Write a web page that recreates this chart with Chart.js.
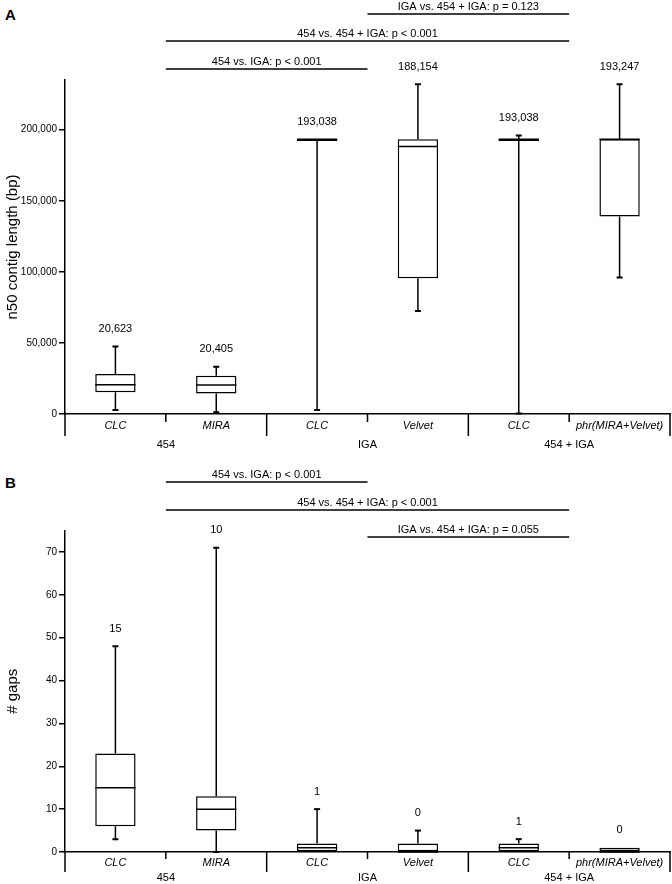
<!DOCTYPE html>
<html>
<head>
<meta charset="utf-8">
<script src="https://cdn.jsdelivr.net/npm/chart.js@4.4.0/dist/chart.umd.min.js"></script>
<style>
  html, body { margin: 0; padding: 0; background: #fff; }
  #wrap { position: relative; width: 672px; height: 884px; }
  canvas { position: absolute; left: 0; }
  #chartA { top: 0; }
  #chartB { top: 452px; }
  .panel { position: absolute; left: 5px; font: bold 15px "Liberation Sans", Arial, sans-serif; line-height: 16px; }
</style>
</head>
<body>
<div id="wrap">
  <div class="panel" style="top:7px">A</div>
  <div class="panel" style="top:475px">B</div>
  <canvas id="chartA" width="672" height="452"></canvas>
  <canvas id="chartB" width="672" height="432"></canvas>
</div>
<script>
// categories (assembler) and their groups (sequencing data)
const categories = ['CLC', 'MIRA', 'CLC', 'Velvet', 'CLC', 'phr(MIRA+Velvet)'];
const groups = ['454', 'IGA', '454 + IGA'];

// A: n50 contig length (bp)
const n50Min = [2800, 1200, 2800, 72500, 300, 96000];
const n50Q1 = [15300, 14500, 193038, 95500, 193038, 139000];
const n50Median = [20623, 20405, 193038, 188154, 193038, 193247];
const n50Q3 = [28200, 27000, 193038, 193400, 193038, 193247];
const n50Max = [47500, 33300, 193038, 232000, 196000, 232000];
const n50Labels = ['20,623', '20,405', '193,038', '188,154', '193,038', '193,247'];
const n50Ticks = [0, 50000, 100000, 150000, 200000];
const sigA = [
  { a: 0, b: 1, text: '454 vs. IGA: p < 0.001' },
  { a: 0, b: 2, text: '454 vs. 454 + IGA: p < 0.001' },
  { a: 1, b: 2, text: 'IGA vs. 454 + IGA: p = 0.123' }
];

// B: number of gaps
const gapsMin = [3, 0, 0, 0, 0, 0];
const gapsQ1 = [6, 5, 0, 0, 0, 0];
const gapsMedian = [15, 10, 1, 0, 1, 0];
const gapsQ3 = [23, 13, 2, 2, 2, 1];
const gapsMax = [48, 71, 10, 5, 3, 1];
const gapsLabels = ['15', '10', '1', '0', '1', '0'];
const gapsTicks = [0, 10, 20, 30, 40, 50, 60, 70];
const sigB = [
  { a: 0, b: 1, text: '454 vs. IGA: p < 0.001' },
  { a: 0, b: 2, text: '454 vs. 454 + IGA: p < 0.001' },
  { a: 1, b: 2, text: 'IGA vs. 454 + IGA: p = 0.055' }
];

const FONT = '"Liberation Sans", Arial, sans-serif';
Chart.defaults.font.family = FONT;
Chart.defaults.color = '#000';

// whiskers, medians, value labels, group axis and significance bars
const boxplotExtras = {
  id: 'boxplotExtras',
  afterDatasetsDraw(chart, args, o) {
    const { ctx } = chart;
    const x = chart.scales.x, y = chart.scales.y;
    const bars = chart.getDatasetMeta(0).data;
    ctx.save();
    ctx.strokeStyle = '#000';
    ctx.fillStyle = '#000';
    o.median.forEach((med, i) => {
      const cx = x.getPixelForValue(i);
      const hw = bars[i].width / 2;
      const yMin = y.getPixelForValue(o.min[i]);
      const yQ1 = y.getPixelForValue(o.q1[i]);
      const yQ3 = y.getPixelForValue(o.q3[i]);
      const yMax = y.getPixelForValue(o.max[i]);
      const yMed = y.getPixelForValue(med);

      ctx.lineWidth = 1.5;
      ctx.beginPath();
      if (o.max[i] > o.q3[i]) { ctx.moveTo(cx, yQ3); ctx.lineTo(cx, yMax); }
      if (o.min[i] < o.q1[i]) { ctx.moveTo(cx, yQ1); ctx.lineTo(cx, yMin); }
      ctx.stroke();

      ctx.lineWidth = 2;
      ctx.beginPath();
      if (o.max[i] > o.q3[i]) { ctx.moveTo(cx - 3, yMax); ctx.lineTo(cx + 3, yMax); }
      if (o.min[i] < o.q1[i]) { ctx.moveTo(cx - 3, yMin); ctx.lineTo(cx + 3, yMin); }
      ctx.stroke();

      ctx.lineWidth = o.q1[i] === o.q3[i] ? 2.5 : 1.5;
      ctx.beginPath();
      ctx.moveTo(cx - hw, yMed);
      ctx.lineTo(cx + hw, yMed);
      ctx.stroke();

      ctx.font = '11px ' + FONT;
      ctx.textAlign = 'center';
      ctx.textBaseline = 'middle';
      ctx.fillText(o.labels[i], cx, yMax - 17.5);
    });
    ctx.restore();
  },
  afterDraw(chart, args, o) {
    const { ctx } = chart;
    const x = chart.scales.x;
    const n = chart.data.labels.length;
    const edge = b => b === 0 ? x.left : b === n ? x.right
      : (x.getPixelForValue(b - 1) + x.getPixelForValue(b)) / 2;
    const groupCenter = g => (x.getPixelForValue(2 * g) + x.getPixelForValue(2 * g + 1)) / 2;
    ctx.save();
    ctx.strokeStyle = '#000';
    ctx.fillStyle = '#000';
    ctx.lineWidth = 1.5;
    ctx.beginPath();
    for (let b = 0; b <= n; b++) {
      const px = edge(b);
      ctx.moveTo(px, x.top);
      ctx.lineTo(px, x.top + (b % 2 === 0 ? o.longTick : o.shortTick));
    }
    ctx.stroke();

    ctx.font = '11px ' + FONT;
    ctx.textAlign = 'center';
    ctx.textBaseline = 'middle';
    groups.forEach((g, k) => ctx.fillText(g, groupCenter(k), x.top + o.groupOffset));

    o.sig.forEach((s, k) => {
      const ly = o.sigY[k];
      const x1 = groupCenter(s.a), x2 = groupCenter(s.b);
      ctx.lineWidth = 1.5;
      ctx.beginPath();
      ctx.moveTo(x1, ly);
      ctx.lineTo(x2, ly);
      ctx.stroke();
      ctx.fillText(s.text, (x1 + x2) / 2, ly - 7.5);
    });
    ctx.restore();
  }
};

function makeBoxChart(id, stats, yOpts, layout) {
  return new Chart(document.getElementById(id), {
    type: 'bar',
    data: {
      labels: categories,
      datasets: [{
        data: stats.q1.map((v, i) => [v, stats.q3[i]]),
        backgroundColor: '#fff',
        borderColor: '#000',
        borderWidth: 1.5,
        borderSkipped: false,
        barPercentage: 0.4,
        categoryPercentage: 1
      }]
    },
    options: {
      responsive: false,
      animation: false,
      events: [],
      layout: { padding: { top: layout.top, right: 2, left: 0, bottom: 0 } },
      plugins: {
        legend: { display: false },
        tooltip: { enabled: false },
        boxplotExtras: Object.assign({}, stats, layout)
      },
      scales: {
        x: {
          offset: true,
          afterFit: s => { s.height = layout.xHeight; },
          grid: { display: false, drawTicks: false },
          border: { display: true, color: '#000', width: 1.5 },
          ticks: {
            color: '#000', padding: layout.labelPad, autoSkip: false, maxRotation: 0,
            font: { size: 11, style: 'italic' }
          }
        },
        y: {
          min: 0,
          max: yOpts.max,
          afterBuildTicks: s => { s.ticks = yOpts.ticks.map(v => ({ value: v })); },
          afterFit: s => { s.width = 65; },
          grid: { drawOnChartArea: false, drawTicks: true, tickLength: 6, color: '#000', lineWidth: 1.5 },
          border: { display: true, color: '#000', width: 1.5 },
          ticks: {
            color: '#000', padding: 2, font: { size: 10 },
            callback: v => v.toLocaleString('en-US')
          },
          title: {
            display: true, text: yOpts.title, color: '#000',
            padding: { top: 4, bottom: 0 },
            font: { size: 15 }
          }
        }
      }
    },
    plugins: [boxplotExtras]
  });
}

makeBoxChart('chartA',
  { min: n50Min, q1: n50Q1, median: n50Median, q3: n50Q3, max: n50Max, labels: n50Labels, sig: sigA },
  { max: 235000, ticks: n50Ticks, title: 'n50 contig length (bp)' },
  { top: 80, xHeight: 38, labelPad: 5, longTick: 22, shortTick: 8, groupOffset: 31, sigY: [69, 41, 14] });

makeBoxChart('chartB',
  { min: gapsMin, q1: gapsQ1, median: gapsMedian, q3: gapsQ3, max: gapsMax, labels: gapsLabels, sig: sigB },
  { max: 75, ticks: gapsTicks, title: '# gaps' },
  { top: 78.5, xHeight: 32, labelPad: 4, longTick: 20, shortTick: 7, groupOffset: 26, sigY: [30, 58, 85] });
</script>
</body>
</html>
